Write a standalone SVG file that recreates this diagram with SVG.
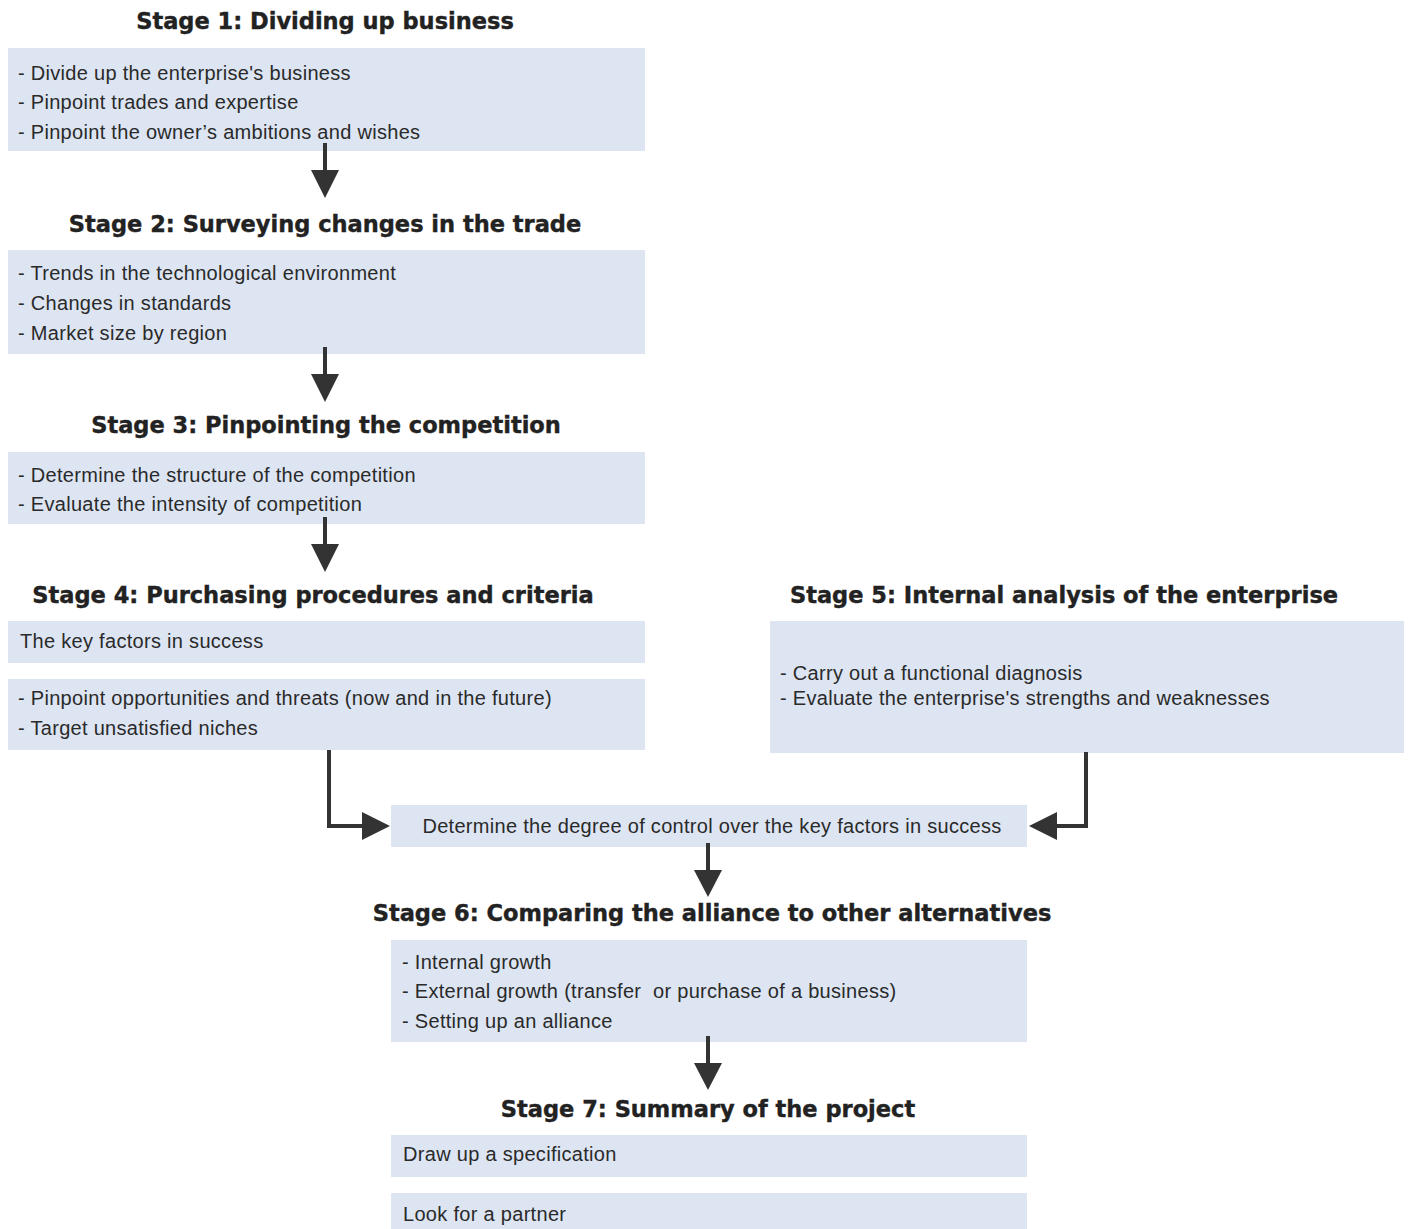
<svg xmlns="http://www.w3.org/2000/svg" width="1411" height="1229" viewBox="0 0 1411 1229">
  <style>
    .box { fill: #dde5f3; }
    .title { font-family: "DejaVu Sans", "Liberation Sans", sans-serif; font-weight: bold; font-size: 22.5px; fill: #222; stroke: #222; stroke-width: 0.4px; text-anchor: middle; }
    .txt { font-family: "Liberation Sans", Arial, sans-serif; font-size: 20px; letter-spacing: 0.3px; fill: #2a2a2a; }
    .wire { fill: none; stroke: #333; stroke-width: 4; }
    .head { fill: #333; }
  </style>
  <rect width="1411" height="1229" fill="#ffffff"/>

  <g id="stage1">
    <text class="title" x="325" y="29">Stage 1: Dividing up business</text>
    <rect class="box" x="8" y="48" width="637" height="103"/>
    <text class="txt" x="18" y="80">- Divide up the enterprise's business</text>
    <text class="txt" x="18" y="109">- Pinpoint trades and expertise</text>
    <text class="txt" x="18" y="139">- Pinpoint the owner’s ambitions and wishes</text>
  </g>

  <g id="stage2">
    <text class="title" x="325" y="232">Stage 2: Surveying changes in the trade</text>
    <rect class="box" x="8" y="250" width="637" height="104"/>
    <text class="txt" x="18" y="280">- Trends in the technological environment</text>
    <text class="txt" x="18" y="310">- Changes in standards</text>
    <text class="txt" x="18" y="340">- Market size by region</text>
  </g>

  <g id="stage3">
    <text class="title" x="326" y="433">Stage 3: Pinpointing the competition</text>
    <rect class="box" x="8" y="452" width="637" height="72"/>
    <text class="txt" x="18" y="482">- Determine the structure of the competition</text>
    <text class="txt" x="18" y="511">- Evaluate the intensity of competition</text>
  </g>

  <g id="stage4">
    <text class="title" x="313" y="603">Stage 4: Purchasing procedures and criteria</text>
    <rect class="box" x="8" y="621" width="637" height="42"/>
    <text class="txt" x="20" y="648">The key factors in success</text>
    <rect class="box" x="8" y="679" width="637" height="71"/>
    <text class="txt" x="18" y="705">- Pinpoint opportunities and threats (now and in the future)</text>
    <text class="txt" x="18" y="735">- Target unsatisfied niches</text>
  </g>

  <g id="stage5">
    <text class="title" x="1064" y="603">Stage 5: Internal analysis of the enterprise</text>
    <rect class="box" x="770" y="621" width="634" height="132"/>
    <text class="txt" x="780" y="680">- Carry out a functional diagnosis</text>
    <text class="txt" x="780" y="705">- Evaluate the enterprise's strengths and weaknesses</text>
  </g>

  <g id="control">
    <rect class="box" x="391" y="805" width="636" height="42"/>
    <text class="txt" x="712" y="833" text-anchor="middle">Determine the degree of control over the key factors in success</text>
  </g>

  <g id="stage6">
    <text class="title" x="712" y="921">Stage 6: Comparing the alliance to other alternatives</text>
    <rect class="box" x="391" y="940" width="636" height="102"/>
    <text class="txt" x="402" y="969">- Internal growth</text>
    <text class="txt" x="402" y="998" xml:space="preserve">- External growth (transfer  or purchase of a business)</text>
    <text class="txt" x="402" y="1028">- Setting up an alliance</text>
  </g>

  <g id="stage7">
    <text class="title" x="708" y="1117">Stage 7: Summary of the project</text>
    <rect class="box" x="391" y="1135" width="636" height="42"/>
    <text class="txt" x="403" y="1161">Draw up a specification</text>
    <rect class="box" x="391" y="1193" width="636" height="36"/>
    <text class="txt" x="403" y="1221">Look for a partner</text>
  </g>

  <g id="connectors">
    <!-- stage 1 to stage 2 -->
    <line class="wire" x1="325" y1="143" x2="325" y2="172"/>
    <polygon class="head" points="311,170 339,170 325,198"/>
    <!-- stage 2 to stage 3 -->
    <line class="wire" x1="325" y1="347" x2="325" y2="376"/>
    <polygon class="head" points="311,374 339,374 325,402"/>
    <!-- stage 3 to stage 4 -->
    <line class="wire" x1="325" y1="517" x2="325" y2="546"/>
    <polygon class="head" points="311,544 339,544 325,572"/>
    <!-- stage 4 into control box -->
    <polyline class="wire" points="329,750 329,826 364,826"/>
    <polygon class="head" points="362,812 362,840 390,826"/>
    <!-- stage 5 into control box -->
    <polyline class="wire" points="1086,752 1086,826 1055,826"/>
    <polygon class="head" points="1057,812 1057,840 1029,826"/>
    <!-- control box to stage 6 -->
    <line class="wire" x1="708" y1="843" x2="708" y2="872"/>
    <polygon class="head" points="694,870 722,870 708,897"/>
    <!-- stage 6 to stage 7 -->
    <line class="wire" x1="708" y1="1036" x2="708" y2="1065"/>
    <polygon class="head" points="694,1063 722,1063 708,1090"/>
  </g>
</svg>
